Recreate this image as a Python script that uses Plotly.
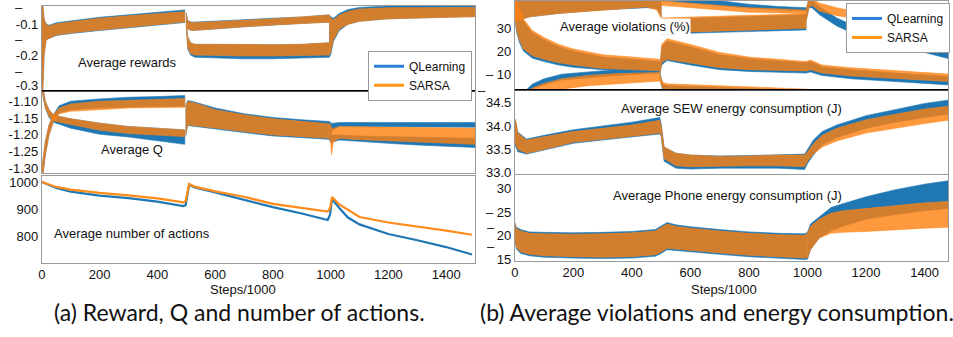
import plotly.graph_objects as go

# ---------------- data ----------------
# Noisy series are represented by their envelopes (hi = upper bound, lo = lower bound).
STEPS_TICKS = [0, 200, 400, 600, 800, 1000, 1200, 1400]

# (a) Average rewards
rew_x_a = [0, 3, 8, 15, 25, 50, 100, 200, 300, 400, 495]
rew_q_hi_a = [0.0, -0.04, -0.083, -0.098, -0.103, -0.095, -0.089, -0.077, -0.069, -0.062, -0.053]
rew_q_lo_a = [-0.4, -0.3, -0.2, -0.15, -0.146, -0.136, -0.13, -0.12, -0.11, -0.102, -0.094]
rew_s_hi_a = [0.0, -0.04, -0.085, -0.1, -0.105, -0.098, -0.092, -0.08, -0.072, -0.066, -0.059]
rew_s_lo_a = [-0.4, -0.3, -0.2, -0.15, -0.145, -0.135, -0.128, -0.118, -0.108, -0.1, -0.092]
rew_x_b = [500, 505, 520, 600, 700, 800, 900, 995]
rew_q_hi_b = [-0.062, -0.088, -0.093, -0.09, -0.085, -0.08, -0.076, -0.069]
rew_q_lo_b = [-0.09, -0.115, -0.12, -0.115, -0.108, -0.102, -0.097, -0.093]
rew_s_hi_b = [-0.065, -0.09, -0.095, -0.092, -0.087, -0.082, -0.077, -0.07]
rew_s_lo_b = [-0.09, -0.115, -0.12, -0.115, -0.108, -0.102, -0.097, -0.093]
rew_x_c = [500, 505, 515, 530, 600, 700, 800, 900, 995]
rew_q_hi_c = [-0.09, -0.14, -0.16, -0.165, -0.165, -0.166, -0.166, -0.165, -0.16]
rew_q_lo_c = [-0.1, -0.18, -0.2, -0.207, -0.209, -0.212, -0.212, -0.21, -0.207]
rew_s_hi_c = [-0.09, -0.14, -0.16, -0.165, -0.165, -0.166, -0.166, -0.165, -0.16]
rew_s_lo_c = [-0.1, -0.175, -0.195, -0.2, -0.2, -0.203, -0.203, -0.202, -0.2]
rew_x_d = [995, 1000, 1010, 1030, 1060, 1100, 1200, 1300, 1400, 1500]
rew_q_hi_d = [-0.07, -0.075, -0.08, -0.065, -0.052, -0.045, -0.04, -0.038, -0.038, -0.038]
rew_q_lo_d = [-0.207, -0.2, -0.155, -0.12, -0.1, -0.09, -0.082, -0.079, -0.077, -0.075]
rew_s_hi_d = [-0.07, -0.08, -0.085, -0.07, -0.058, -0.05, -0.046, -0.045, -0.045, -0.045]
rew_s_lo_d = [-0.2, -0.19, -0.15, -0.115, -0.1, -0.09, -0.082, -0.079, -0.077, -0.075]

# (a) Average Q
q_x_a = [0, 5, 12, 25, 40, 60, 100, 200, 300, 400, 495]
q_q_hi_up = [-1.30, -1.27, -1.22, -1.17, -1.14, -1.113, -1.1, -1.093, -1.088, -1.086, -1.083]
q_q_lo_up = [-1.33, -1.31, -1.26, -1.2, -1.16, -1.135, -1.125, -1.12, -1.117, -1.115, -1.115]
q_s_hi_up = [-1.30, -1.27, -1.22, -1.17, -1.14, -1.12, -1.108, -1.1, -1.097, -1.095, -1.092]
q_s_lo_up = [-1.33, -1.31, -1.26, -1.2, -1.16, -1.137, -1.13, -1.125, -1.12, -1.118, -1.118]
q_q_hi_dn = [-1.04, -1.07, -1.1, -1.125, -1.14, -1.145, -1.152, -1.165, -1.175, -1.18, -1.185]
q_q_lo_dn = [-1.06, -1.09, -1.12, -1.148, -1.162, -1.168, -1.18, -1.198, -1.206, -1.218, -1.228]
q_s_hi_dn = [-1.04, -1.07, -1.1, -1.125, -1.14, -1.145, -1.152, -1.165, -1.175, -1.18, -1.185]
q_s_lo_dn = [-1.06, -1.09, -1.12, -1.145, -1.158, -1.162, -1.17, -1.186, -1.196, -1.2, -1.205]
q_x_b = [498, 505, 520, 550, 600, 700, 800, 900, 995]
q_q_hi_b = [-1.115, -1.098, -1.1, -1.108, -1.12, -1.137, -1.148, -1.155, -1.16]
q_q_lo_b = [-1.205, -1.172, -1.175, -1.178, -1.183, -1.193, -1.203, -1.208, -1.213]
q_s_hi_b = [-1.12, -1.10, -1.103, -1.11, -1.125, -1.14, -1.152, -1.16, -1.167]
q_s_lo_b = [-1.20, -1.17, -1.172, -1.175, -1.18, -1.19, -1.2, -1.205, -1.21]
q_x_c = [995, 1000, 1003, 1010, 1030, 1100, 1200, 1300, 1400, 1500]
q_q_hi_c1 = [-1.16, -1.163, -1.165, -1.165, -1.163, -1.163, -1.163, -1.163, -1.163, -1.163]
q_q_lo_c1 = [-1.21, -1.2, -1.19, -1.185, -1.175, -1.175, -1.176, -1.177, -1.177, -1.177]
q_q_hi_c2 = [-1.19, -1.19, -1.2, -1.2, -1.2, -1.203, -1.205, -1.207, -1.208, -1.21]
q_q_lo_c2 = [-1.215, -1.22, -1.225, -1.22, -1.215, -1.22, -1.225, -1.23, -1.234, -1.237]
q_s_hi_c = [-1.167, -1.17, -1.18, -1.18, -1.175, -1.176, -1.177, -1.178, -1.18, -1.18]
q_s_lo_c = [-1.21, -1.22, -1.26, -1.22, -1.21, -1.214, -1.218, -1.222, -1.225, -1.228]

# (a) Average number of actions
act_x = [0, 20, 50, 100, 200, 300, 400, 490, 498, 510, 530, 600, 700, 800, 900, 990, 998, 1005,
         1030, 1060, 1100, 1200, 1300, 1400, 1490]
act_q = [1000, 990, 978, 965, 950, 941, 928, 912, 915, 990, 980, 962, 936, 908, 885, 861, 880, 938,
         905, 870, 845, 810, 787, 762, 735]
act_s = [1000, 992, 982, 972, 960, 951, 940, 926, 930, 993, 983, 966, 946, 920, 905, 892, 905, 945,
         918, 898, 872, 852, 838, 822, 807]

# (b) Average violations (%)
vio_x_a = [0, 5, 15, 30, 60, 100, 150, 200, 300, 400, 495]
vio_q_hi_a = [43, 41, 38, 33, 28, 25, 22, 20, 17.5, 16.5, 15.5]
vio_q_lo_a = [35, 29, 24, 20, 17, 15.5, 14, 13, 12, 11.5, 11]
vio_s_hi_a = [44, 42, 39, 34, 29, 26, 23, 21, 18.5, 17.5, 16.5]
vio_s_lo_a = [36, 30, 25, 21, 18, 16.5, 15, 14, 12.5, 12, 11.5]
vio_x_b = [25, 40, 60, 100, 160, 250, 350, 495]
vio_q_hi_b = [1.5, 3.5, 5.7, 8, 10, 11, 12, 13]
vio_q_lo_b = [0, 1, 3.6, 5.5, 7.5, 8.5, 9.5, 10.5]
vio_s_hi_b = [1, 2.5, 4, 6, 8, 9.5, 10.3, 10.8]
vio_s_lo_b = [0, 0.5, 1.5, 2.5, 3.5, 5, 6, 7]
vio_x_t = [0, 50, 150, 300, 450, 485, 500]
vio_q_hi_t = [50, 50, 50, 50, 50, 50, 50]
vio_q_lo_t = [33, 35, 36.5, 38, 39, 38.5, 35]
vio_s_hi_t = [50, 50, 50, 50, 50, 50, 50]
vio_s_lo_t = [33, 35, 36.5, 38, 39.3, 38, 34.5]
vio_x_c = [500, 600, 700, 800, 900, 995]
vio_q_hi_c = [34, 34.5, 34.8, 35.2, 35.5, 36]
vio_q_lo_c = [27.5, 27.8, 28.2, 28.6, 29, 29.3]
vio_s_hi_c = [34.5, 35, 35.3, 35.7, 36, 36.5]
vio_s_lo_c = [28, 28.4, 28.8, 29.2, 29.6, 30]
vio_x_d = [500, 600, 700, 800, 900, 995]
vio_q_hi_d = [45, 43.5, 42, 40.5, 39.5, 39]
vio_q_lo_d = [42, 41, 39.8, 38.8, 38, 37.5]
vio_s_hi_d = [42, 41, 40, 39, 38.5, 38]
vio_s_lo_d = [40, 39, 38, 37, 36.7, 36.5]
vio_x_e = [995, 1005, 1015, 1040, 1100, 1160, 1250, 1330, 1400, 1490]
vio_q_hi_e = [38, 43, 42.5, 39.5, 34.5, 31, 27.5, 25, 23, 20.5]
vio_q_lo_e = [33, 39, 39, 36, 31, 27.5, 24, 21.5, 19.5, 16.5]
vio_s_hi_e = [38, 43, 43, 41, 39, 37.5, 35, 33.5, 32, 31]
vio_s_lo_e = [33, 39, 40, 37.5, 35.5, 34.5, 32, 30.5, 29.5, 28.5]
vio_x_f = [495, 502, 520, 600, 700, 800, 900, 995, 1010, 1050, 1150, 1300, 1490]
vio_q_hi_f = [12.5, 22, 24.5, 22, 18.5, 16.8, 15.8, 15, 15.5, 13.2, 12, 10.5, 9]
vio_q_lo_f = [10, 14, 16, 14, 12, 11.2, 10.8, 10.5, 11, 9.5, 8, 6.8, 5.3]
vio_s_hi_f = [12, 23, 25.5, 23, 19.5, 17.5, 16.5, 15.5, 16.2, 14, 12.8, 11.5, 10]
vio_s_lo_f = [10, 15, 16.5, 15, 12.8, 12, 11.6, 11.4, 12, 10.5, 9.2, 8, 6.8]
vio_x_g = [495, 505, 520, 600, 700, 800, 900, 1000]
vio_q_hi_g = [11, 5.5, 5, 4.8, 4.3, 3.8, 3.3, 3]
vio_q_lo_g = [9, 3, 2.6, 2.3, 2, 1.6, 1.2, 0.8]
vio_s_hi_g = [10, 6.5, 5.8, 5.5, 5, 4.5, 4, 3.5]
vio_s_lo_g = [7, 3.8, 3.5, 3.2, 2.8, 2.4, 2, 1.5]

# (b) Average SEW energy consumption (J)
sew_x = [0, 3, 10, 40, 100, 200, 300, 400, 495, 500, 510, 550, 600, 700, 800, 900, 990, 1000,
         1020, 1050, 1100, 1200, 1300, 1400, 1480]
sew_q_hi = [34.15, 34.1, 33.87, 33.72, 33.8, 33.92, 34.0, 34.08, 34.18, 34.05, 33.55, 33.42, 33.38,
            33.36, 33.37, 33.38, 33.4, 33.5, 33.7, 33.88, 34.02, 34.22, 34.35, 34.48, 34.55]
sew_q_lo = [33.6, 33.55, 33.45, 33.4, 33.48, 33.63, 33.7, 33.76, 33.83, 33.78, 33.25, 33.1, 33.08,
            33.1, 33.1, 33.1, 33.07, 33.2, 33.38, 33.6, 33.75, 33.95, 34.08, 34.18, 34.25]
sew_s_hi = [34.15, 34.1, 33.85, 33.7, 33.77, 33.88, 33.95, 34.02, 34.12, 34.0, 33.55, 33.42, 33.38,
            33.35, 33.36, 33.38, 33.38, 33.45, 33.62, 33.8, 33.95, 34.13, 34.25, 34.36, 34.42]
sew_s_lo = [33.65, 33.6, 33.5, 33.42, 33.5, 33.65, 33.72, 33.78, 33.85, 33.8, 33.3, 33.15, 33.13,
            33.14, 33.15, 33.15, 33.13, 33.25, 33.4, 33.55, 33.68, 33.85, 33.95, 34.05, 34.12]

# (b) Average Phone energy consumption (J)
ph_x_a = [0, 5, 20, 50, 100, 200, 300, 400, 480, 500, 520, 550, 600, 700, 800, 900, 990, 1000]
ph_q_hi_a = [22.8, 21.8, 21.3, 20.8, 20.7, 20.6, 20.7, 20.9, 21.3, 22.1, 22.8, 22.3, 21.9, 21.3, 20.8, 20.5, 20.4, 20.7]
ph_q_lo_a = [19.2, 17.2, 16.2, 15.7, 15.4, 15.2, 15.1, 15.2, 15.6, 16.2, 17.0, 16.9, 16.6, 16.0, 15.5, 15.2, 14.9, 15.0]
ph_s_hi_a = [22.5, 21.5, 21, 20.5, 20.4, 20.3, 20.4, 20.6, 21, 21.8, 22.5, 22, 21.6, 21, 20.5, 20.2, 20.1, 20.5]
ph_s_lo_a = [19.5, 17.5, 16.5, 16, 15.7, 15.5, 15.4, 15.5, 15.9, 16.5, 17.3, 17.2, 16.9, 16.3, 15.8, 15.5, 15.2, 15.3]
ph_x_b = [1000, 1010, 1040, 1080, 1120, 1200, 1300, 1400, 1480]
ph_q_hi_b = [20.7, 22.5, 24, 26, 26.8, 28.3, 29.8, 31, 31.7]
ph_q_lo_b = [15, 17, 19.5, 21, 22, 23.5, 24.5, 25.3, 25.8]
ph_s_hi_b = [20.5, 22, 23.5, 24.8, 25.3, 25.8, 26.5, 27, 27.3]
ph_s_lo_b = [15.3, 17, 19.5, 20.5, 20.7, 20.9, 21.2, 21.6, 21.8]

# ---------------- styling ----------------
BLUE = "#1f77b4"
ORANGE = "rgba(255,127,14,0.8)"
ORANGE_LINE = "rgba(255,135,25,0.85)"
FONT = "Liberation Sans, Arial, sans-serif"
W, H = 953, 337

fig = go.Figure()


def band(x, hi, lo, color, line, n):
    fig.add_trace(go.Scatter(
        x=list(x) + list(x)[::-1], y=list(hi) + list(lo)[::-1],
        fill="toself", fillcolor=color, mode="lines",
        line=dict(color=line, width=0.6),
        xaxis="x" if n == 1 else f"x{n}", yaxis="y" if n == 1 else f"y{n}",
        showlegend=False, hoverinfo="skip"))


def q(x, hi, lo, n):
    band(x, hi, lo, BLUE, BLUE, n)


def s(x, hi, lo, n):
    band(x, hi, lo, ORANGE, ORANGE_LINE, n)


# panel 1: rewards
q(rew_x_a, rew_q_hi_a, rew_q_lo_a, 1)
q(rew_x_b, rew_q_hi_b, rew_q_lo_b, 1)
q(rew_x_c, rew_q_hi_c, rew_q_lo_c, 1)
q(rew_x_d, rew_q_hi_d, rew_q_lo_d, 1)
s(rew_x_a, rew_s_hi_a, rew_s_lo_a, 1)
s(rew_x_b, rew_s_hi_b, rew_s_lo_b, 1)
s(rew_x_c, rew_s_hi_c, rew_s_lo_c, 1)
s(rew_x_d, rew_s_hi_d, rew_s_lo_d, 1)

# panel 2: Q
q(q_x_a, q_q_hi_up, q_q_lo_up, 2)
q(q_x_a, q_q_hi_dn, q_q_lo_dn, 2)
q(q_x_b, q_q_hi_b, q_q_lo_b, 2)
q(q_x_c, q_q_hi_c1, q_q_lo_c1, 2)
q(q_x_c, q_q_hi_c2, q_q_lo_c2, 2)
s(q_x_a, q_s_hi_up, q_s_lo_up, 2)
s(q_x_a, q_s_hi_dn, q_s_lo_dn, 2)
s(q_x_b, q_s_hi_b, q_s_lo_b, 2)
s(q_x_c, q_s_hi_c, q_s_lo_c, 2)

# panel 3: actions
fig.add_trace(go.Scatter(x=act_x, y=act_q, mode="lines", line=dict(color=BLUE, width=2.2),
                         xaxis="x3", yaxis="y3", showlegend=False, hoverinfo="skip"))
fig.add_trace(go.Scatter(x=act_x, y=act_s, mode="lines", line=dict(color="#ff8c1a", width=2.2),
                         xaxis="x3", yaxis="y3", showlegend=False, hoverinfo="skip"))

# panel 4: violations
for xx, hi, lo in [(vio_x_t, vio_q_hi_t, vio_q_lo_t), (vio_x_a, vio_q_hi_a, vio_q_lo_a),
                   (vio_x_b, vio_q_hi_b, vio_q_lo_b), (vio_x_c, vio_q_hi_c, vio_q_lo_c),
                   (vio_x_d, vio_q_hi_d, vio_q_lo_d), (vio_x_e, vio_q_hi_e, vio_q_lo_e),
                   (vio_x_f, vio_q_hi_f, vio_q_lo_f), (vio_x_g, vio_q_hi_g, vio_q_lo_g)]:
    q(xx, hi, lo, 4)
for xx, hi, lo in [(vio_x_t, vio_s_hi_t, vio_s_lo_t), (vio_x_a, vio_s_hi_a, vio_s_lo_a),
                   (vio_x_b, vio_s_hi_b, vio_s_lo_b), (vio_x_c, vio_s_hi_c, vio_s_lo_c),
                   (vio_x_d, vio_s_hi_d, vio_s_lo_d), (vio_x_e, vio_s_hi_e, vio_s_lo_e),
                   (vio_x_f, vio_s_hi_f, vio_s_lo_f), (vio_x_g, vio_s_hi_g, vio_s_lo_g)]:
    s(xx, hi, lo, 4)

# panel 5: SEW
q(sew_x, sew_q_hi, sew_q_lo, 5)
s(sew_x, sew_s_hi, sew_s_lo, 5)

# panel 6: phone
q(ph_x_a, ph_q_hi_a, ph_q_lo_a, 6)
q(ph_x_b, ph_q_hi_b, ph_q_lo_b, 6)
s(ph_x_a, ph_s_hi_a, ph_s_lo_a, 6)
s(ph_x_b, ph_s_hi_b, ph_s_lo_b, 6)

# legend entries
for lg in ["legend", "legend2"]:
    fig.add_trace(go.Scatter(x=[None], y=[None], mode="lines", name="QLearning",
                             line=dict(color="#2b7fd8", width=3), legend=lg, xaxis="x", yaxis="y"))
    fig.add_trace(go.Scatter(x=[None], y=[None], mode="lines", name="SARSA",
                             line=dict(color="#ff9512", width=3), legend=lg, xaxis="x", yaxis="y"))


def px_x(p):
    return p / W


def px_y(p):
    return 1 - p / H


NB = "\u00a0"
panels = {
    1: dict(xd=[38, 473], yd=[5, 92], yr=[-0.316, -0.040], xr=[0, 1500], show=False,
            tv=[-0.1, -0.2, -0.3], tt=["-0.1", "-0.2", "-0.3"]),
    2: dict(xd=[38, 473], yd=[92, 176], yr=[-1.3125, -1.069], xr=[0, 1500], show=False,
            tv=[-1.10, -1.15, -1.20, -1.25, -1.30],
            tt=["-1.10", "-1.15", "-1.20", "-1.25", "-1.30"]),
    3: dict(xd=[38, 473], yd=[179, 268], yr=[705, 1023], xr=[0, 1500], show=True,
            tv=[800, 900, 1000], tt=["800", "900", "1000"]),
    4: dict(xd=[513, 948], yd=[0, 91], yr=[3.2, 41.9], xr=[0, 1480], show=False,
            tv=[10, 20, 30], tt=["–" + NB + "10", "20", "30"]),
    5: dict(xd=[513, 948], yd=[91, 177], yr=[32.98, 34.77], xr=[0, 1480], show=False,
            tv=[34.5, 34.0, 33.5, 33.0], tt=["34.5", "34.0", "33.5", "33.0"]),
    6: dict(xd=[513, 948], yd=[178, 266], yr=[14.65, 33], xr=[0, 1480], show=True,
            tv=[30, 25, 20, 15], tt=["30", "–" + NB + "25", "20", "15"]),
}

tickfont = dict(family=FONT, size=13, color="#111")
layout = {}
for n, p in panels.items():
    sfx = "" if n == 1 else str(n)
    layout["xaxis" + sfx] = dict(
        domain=[px_x(p["xd"][0]), px_x(p["xd"][1])], range=p["xr"], anchor="y" + sfx,
        showticklabels=p["show"], tickvals=STEPS_TICKS, ticks="", showgrid=False, zeroline=False,
        showline=True, mirror=True, linecolor="#9a9a9a", linewidth=1, tickfont=tickfont)
    layout["yaxis" + sfx] = dict(
        domain=[px_y(p["yd"][1]), px_y(p["yd"][0])], range=p["yr"], anchor="x" + sfx,
        tickvals=p["tv"], ticktext=p["tt"], ticks="", showgrid=False, zeroline=False,
        showline=True, mirror=True, linecolor="#9a9a9a", linewidth=1, tickfont=tickfont)

anns = []


def ann(text, x, y, size=13, bg=None, family=FONT):
    d = dict(text=text, x=px_x(x), y=px_y(y), xref="paper", yref="paper", showarrow=False,
             xanchor="center", yanchor="middle", font=dict(family=family, size=size, color="#111"))
    if bg:
        d["bgcolor"] = bg
        d["borderpad"] = 0
    anns.append(d)


ann("Average rewards", 124, 63)
ann("Average Q", 129, 152)
ann("Average number of actions", 129, 238)
ann("Average violations (%)", 624, 26, bg="white")
ann("Average SEW energy consumption (J)", 731, 110, bg="white")
ann("Average Phone energy consumption (J)", 727, 199)
ann("Steps/1000", 240, 296)
ann("Steps/1000", 723, 296)
ann("(a) Reward, Q and number of actions.", 236, 319, size=23, family="Lato, sans-serif")
ann("(b) Average violations and energy consumption.", 716, 319, size=23, family="Lato, sans-serif")
# stray dash marks left of the y axes, as in the reference
for dx, dy in [(15, 7), (15, 39), (15, 72), (480, 92), (489, 232), (489, 251)]:
    ann("–", dx, dy)

legend_style = dict(font=dict(family=FONT, size=12, color="#111"), bgcolor="white",
                    bordercolor="#9a9a9a", borderwidth=1, tracegroupgap=0,
                    xanchor="right", yanchor="top")

fig.update_layout(
    **layout,
    width=W, height=H, margin=dict(l=0, r=0, t=0, b=0),
    paper_bgcolor="white", plot_bgcolor="white",
    hovermode=False,
    annotations=anns,
    legend=dict(x=px_x(470), y=px_y(51), **legend_style),
    legend2=dict(x=px_x(950), y=px_y(2), **legend_style),
    shapes=[
        dict(type="line", xref="paper", yref="paper", x0=px_x(38), x1=px_x(473),
             y0=px_y(92), y1=px_y(92), line=dict(color="black", width=1.5)),
        dict(type="line", xref="paper", yref="paper", x0=px_x(513), x1=px_x(948),
             y0=px_y(91), y1=px_y(91), line=dict(color="black", width=1.5)),
    ],
)

fig.write_html("out.html")
